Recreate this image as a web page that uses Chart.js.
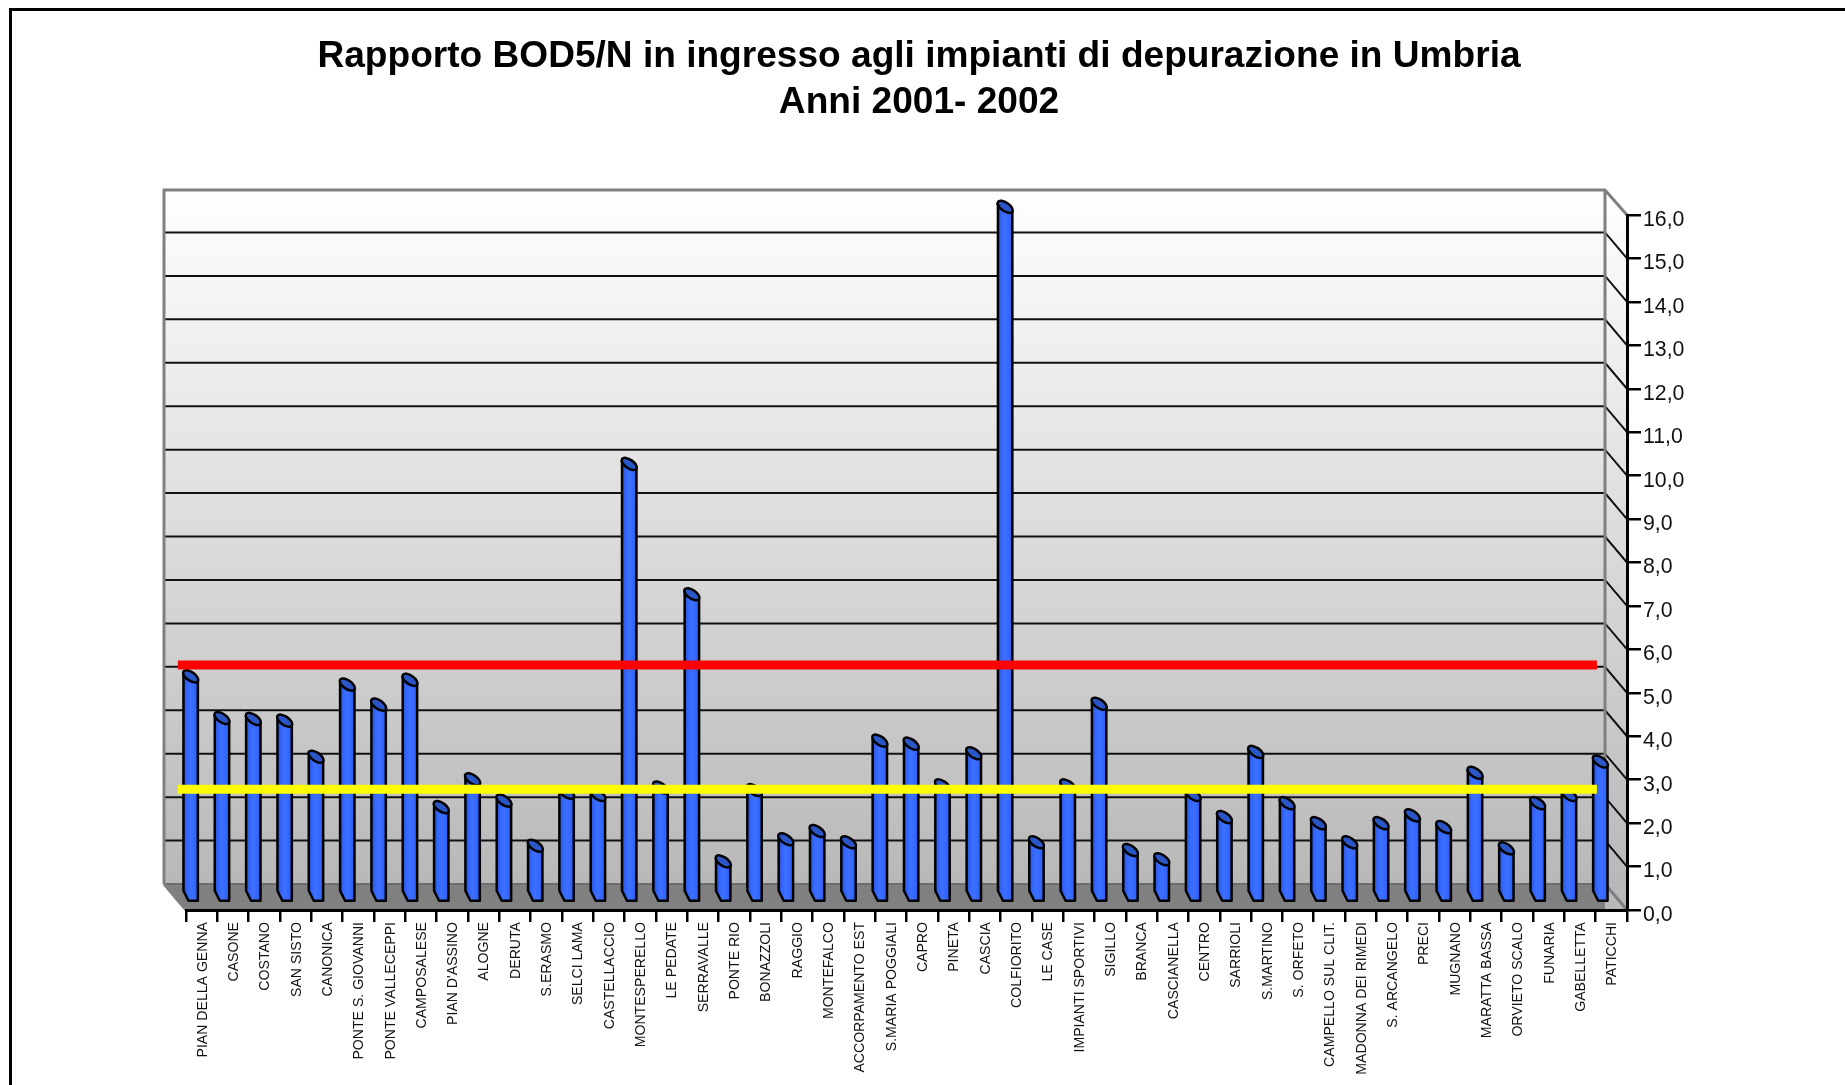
<!DOCTYPE html>
<html lang="it">
<head>
	<meta charset="UTF-8"/>
	<title>Rapporto BOD5/N</title>
	<script src="https://cdn.jsdelivr.net/npm/chart.js"></script>
	<style>
		html, body { margin: 0; padding: 0; background: #fff; overflow: hidden; }
		#frame { position: absolute; left: 9px; top: 8px; width: 1840px; height: 1090px; border: 3px solid #000; box-sizing: border-box; }
		#wrap { position: absolute; left: 0; top: 0; width: 1838px; height: 1085px; }
	</style>
	<script>
		const categories = ["PIAN DELLA GENNA", "CASONE", "COSTANO", "SAN SISTO", "CANONICA", "PONTE S. GIOVANNI", "PONTE VALLECEPPI", "CAMPOSALESE", "PIAN D'ASSINO", "ALOGNE", "DERUTA", "S.ERASMO", "SELCI LAMA", "CASTELLACCIO", "MONTESPERELLO", "LE PEDATE", "SERRAVALLE", "PONTE RIO", "BONAZZOLI", "RAGGIO", "MONTEFALCO", "ACCORPAMENTO EST", "S.MARIA POGGIALI", "CAPRO", "PINETA", "CASCIA", "COLFIORITO", "LE CASE", "IMPIANTI SPORTIVI", "SIGILLO", "BRANCA", "CASCIANELLA", "CENTRO", "SARRIOLI", "S.MARTINO", "S. ORFETO", "CAMPELLO SUL CLIT.", "MADONNA DEI RIMEDI", "S. ARCANGELO", "PRECI", "MUGNANO", "MARATTA BASSA", "ORVIETO SCALO", "FUNARIA", "GABELLETTA", "PATICCHI"];
		const ratios = [5.08, 4.12, 4.10, 4.06, 3.23, 4.89, 4.43, 5.00, 2.07, 2.71, 2.22, 1.18, 2.40, 2.35, 9.97, 2.52, 6.97, 0.82, 2.46, 1.33, 1.52, 1.26, 3.60, 3.53, 2.57, 3.31, 15.89, 1.26, 2.57, 4.45, 1.08, 0.87, 2.35, 1.84, 3.34, 2.16, 1.70, 1.26, 1.70, 1.88, 1.61, 2.86, 1.12, 2.16, 2.35, 3.12];
		const redLevel = 5.64;
		const yellowLevel = 2.78;
		const levelSpan = [-0.26, 45.04];
		const titleLines = ["Rapporto BOD5/N in ingresso agli impianti di depurazione in Umbria", "Anni 2001- 2002"];

		const depthX = 22, depthY = 26;

		// bar drawn as a slanted cylinder, pushed half way into the chart depth
		class CylinderBar extends Chart.BarElement {
			draw(ctx) {
				const cx = this.x - depthX / 2;
				const w = this.width;
				const top = this.y - depthY / 2;
				const bottom = this.base - depthY / 2;
				const left = cx - w / 2, right = cx + w / 2;
				ctx.save();
				const grad = ctx.createLinearGradient(left, 0, right, 0);
				grad.addColorStop(0, "#2b50c8");
				grad.addColorStop(0.25, "#3366ff");
				grad.addColorStop(0.5, "#3d70ff");
				grad.addColorStop(0.8, "#3366ff");
				grad.addColorStop(1, "#2c58dc");
				ctx.fillStyle = grad;
				ctx.strokeStyle = "#000";
				ctx.lineWidth = 2.5;
				ctx.lineJoin = "round";
				ctx.beginPath();
				ctx.moveTo(left, top - 3);
				ctx.lineTo(left, bottom - 5);
				ctx.lineTo(left + 5, bottom + 5);
				ctx.lineTo(right, bottom + 5);
				ctx.lineTo(right, top + 4);
				ctx.closePath();
				ctx.fill();
				ctx.stroke();
				ctx.fillStyle = "#2a56c8";
				ctx.beginPath();
				ctx.ellipse(cx, top, w / 2 + 1.5, 4.3, 0.6, 0, Math.PI * 2);
				ctx.fill();
				ctx.stroke();
				ctx.restore();
			}
		}
		CylinderBar.id = "cylinderBar";
		CylinderBar.defaults = Chart.BarElement.defaults;
		CylinderBar.defaultRoutes = Chart.BarElement.defaultRoutes;

		class CylinderController extends Chart.BarController {}
		CylinderController.id = "cylinder";
		CylinderController.defaults = Object.assign({}, Chart.BarController.defaults, { dataElementType: "cylinderBar" });
		CylinderController.overrides = Chart.BarController.overrides;

		Chart.register(CylinderBar, CylinderController);

		// back wall, side wall and floor of the 3d box, placed from the scales
		const boxPlugin = {
			id: "box3d",
			beforeDraw(chart) {
				const ctx = chart.ctx, y = chart.scales.y, area = chart.chartArea;
				const backL = area.left - depthX, backR = area.right - depthX;
				const y0 = y.getPixelForValue(0);
				const yTop = y.getPixelForValue(y.max) - depthY + 1;
				const backBottom = y0 - depthY;
				ctx.save();
				const wall = ctx.createLinearGradient(0, yTop, 0, backBottom);
				wall.addColorStop(0, "#ffffff");
				wall.addColorStop(1, "#b8b8b8");
				ctx.fillStyle = wall;
				ctx.fillRect(backL, yTop, backR - backL, backBottom - yTop);
				// right side wall
				ctx.beginPath();
				ctx.moveTo(backR, yTop);
				ctx.lineTo(area.right, yTop + depthY - 1);
				ctx.lineTo(area.right, y0);
				ctx.lineTo(backR, y0);
				ctx.closePath();
				ctx.fill();
				// floor
				ctx.fillStyle = "#808080";
				ctx.beginPath();
				ctx.moveTo(backL, backBottom);
				ctx.lineTo(backR, backBottom);
				ctx.lineTo(backR, y0 - 1);
				ctx.lineTo(area.left, y0 - 1);
				ctx.closePath();
				ctx.fill();
				ctx.strokeStyle = "#6e6e6e";
				ctx.lineWidth = 2;
				ctx.beginPath();
				ctx.moveTo(backL, backBottom);
				ctx.lineTo(backR, backBottom);
				ctx.stroke();
				// grid lines
				ctx.strokeStyle = "#111";
				ctx.lineWidth = 2;
				y.ticks.forEach(t => {
					if (t.value <= 0 || t.value >= y.max) return;
					const py = y.getPixelForValue(t.value);
					ctx.beginPath();
					ctx.moveTo(backL, py - depthY);
					ctx.lineTo(backR, py - depthY);
					ctx.lineTo(area.right, py);
					ctx.stroke();
				});
				// grey box edges
				ctx.strokeStyle = "#808080";
				ctx.lineWidth = 3;
				ctx.beginPath();
				ctx.moveTo(backL, backBottom);
				ctx.lineTo(backL, yTop);
				ctx.lineTo(backR, yTop);
				ctx.lineTo(area.right, yTop + depthY - 1);
				ctx.moveTo(backR, yTop);
				ctx.lineTo(backR, backBottom);
				ctx.lineTo(area.right, y0);
				ctx.moveTo(backL, backBottom);
				ctx.lineTo(area.left, y0);
				ctx.stroke();
				ctx.restore();
			}
		};

		window.addEventListener("load", function() {
			const ctx = document.getElementById("bodChart").getContext("2d");
			new Chart(ctx, {
				data: {
					labels: categories,
					datasets: [
						{ type: "cylinder", data: ratios, xAxisID: "x", yAxisID: "y", grouped: false, categoryPercentage: 1, barPercentage: 0.46, order: 2, clip: false },
						{ type: "line", data: levelSpan.map(x => ({ x: x, y: redLevel })), xAxisID: "xLevel", yAxisID: "y", borderColor: "#ff0000", borderWidth: 9, pointRadius: 0, order: 1, clip: false, borderCapStyle: "butt" },
						{ type: "line", data: levelSpan.map(x => ({ x: x, y: yellowLevel })), xAxisID: "xLevel", yAxisID: "y", borderColor: "#ffff00", borderWidth: 9, pointRadius: 0, order: 0, clip: false, borderCapStyle: "butt" }
					]
				},
				options: {
					responsive: true,
					maintainAspectRatio: false,
					animation: false,
					plugins: {
						legend: { display: false },
						tooltip: { enabled: false },
						title: {
							display: true,
							text: titleLines,
							color: "#000",
							font: { family: "'Liberation Sans'", size: 37.1, weight: "bold", lineHeight: 1.24 },
							padding: { top: 34, bottom: 89 }
						}
					},
					scales: {
						x: {
							type: "category",
							offset: true,
							position: "bottom",
							afterFit: s => { s.height = 175; },
							border: { color: "#000", width: 3 },
							grid: { offset: true, drawOnChartArea: false, color: "#000", lineWidth: 2.5, tickLength: 12 },
							ticks: { autoSkip: false, minRotation: 90, maxRotation: 90, color: "#111", font: { family: "'Liberation Sans'", size: 14.1 }, padding: 0, labelOffset: 1 }
						},
						xLevel: { type: "linear", display: false, min: 0, max: categories.length },
						y: {
							type: "linear",
							position: "right",
							min: 0,
							max: 16,
							afterFit: s => { s.width = 1838 - 1627; },
							border: { color: "#000", width: 3 },
							grid: { drawOnChartArea: false, color: "#000", lineWidth: 2.5, tickLength: 14 },
							ticks: { stepSize: 1, color: "#111", font: { family: "'Liberation Sans'", size: 21.3 }, padding: 2, labelOffset: 5, callback: v => v.toFixed(1).replace(".", ",") }
						},
						leftGap: {
							type: "linear",
							position: "left",
							afterFit: s => { s.width = 186; },
							border: { display: false },
							grid: { display: false },
							ticks: { display: false }
						}
					}
				},
				plugins: [boxPlugin]
			});
		}, false);
	</script>
</head>
<body>
	<div id="frame"></div>
	<div id="wrap"><canvas id="bodChart"></canvas></div>
</body>
</html>
